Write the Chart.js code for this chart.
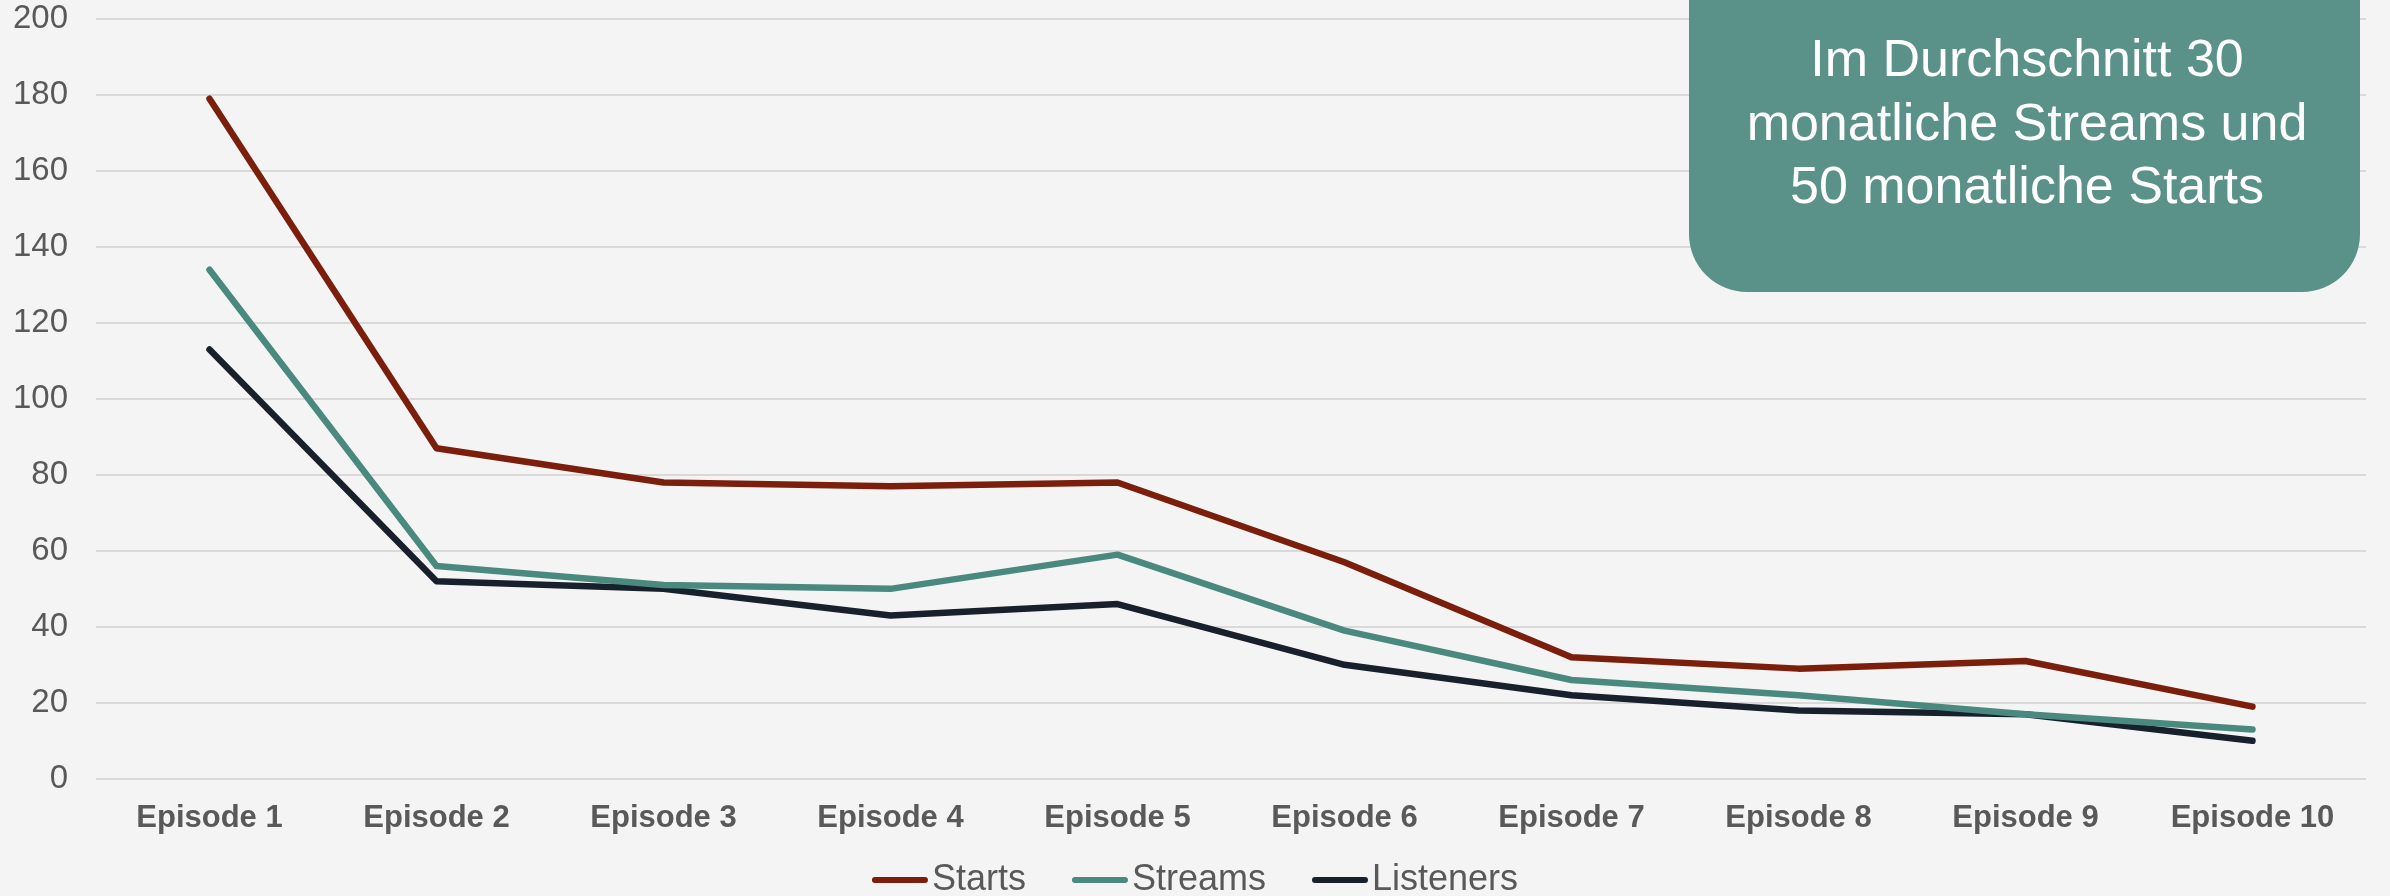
<!DOCTYPE html>
<html>
<head>
<meta charset="utf-8">
<script src="https://cdn.jsdelivr.net/npm/chart.js@4"></script>
<style>
    html, body { margin: 0; padding: 0; background: #f4f4f4; }
    #wrap { width: 2390px; height: 896px; position: relative; }
</style>
</head>
<body>
<div id="wrap"><canvas id="episodeChart"></canvas></div>
<script>
// Episode labels on the x axis
const episodes = ['Episode 1', 'Episode 2', 'Episode 3', 'Episode 4', 'Episode 5',
    'Episode 6', 'Episode 7', 'Episode 8', 'Episode 9', 'Episode 10'];

// Values
const starts = [179, 87, 78, 77, 78, 57, 32, 29, 31, 19];
const streams = [134, 56, 51, 50, 59, 39, 26, 22, 17, 13];
const listeners = [113, 52, 50, 43, 46, 30, 22, 18, 17, 10];

const calloutLines = ['Im Durchschnitt 30', 'monatliche Streams und', '50 monatliche Starts'];

const textColor = '#595959';
const fontFamily = '"Liberation Sans", Arial, sans-serif';

// Draws the green rounded callout box in the top right corner
const calloutPlugin = {
    id: 'callout',
    afterDraw(chart) {
        const ctx = chart.ctx;
        ctx.save();
        ctx.fillStyle = '#5a9189';
        ctx.beginPath();
        ctx.roundRect(1689, -80, 671, 372, 58);
        ctx.fill();
        ctx.fillStyle = '#ffffff';
        ctx.font = '52px ' + fontFamily;
        ctx.textAlign = 'center';
        ctx.textBaseline = 'alphabetic';
        calloutLines.forEach((line, i) => {
            ctx.fillText(line, 2027, 76 + i * 63.5);
        });
        ctx.restore();
    }
};

// Legend drawn by hand: short line sample right next to the label
const legendPlugin = {
    id: 'bottomLegend',
    afterDraw(chart) {
        const ctx = chart.ctx;
        const sample = 56, gap = 4, spacing = 46, y = 880;
        ctx.save();
        ctx.font = '36px ' + fontFamily;
        const items = chart.data.datasets.map(ds => ({
            label: ds.label,
            color: ds.borderColor,
            w: sample + gap + ctx.measureText(ds.label).width
        }));
        const total = items.reduce((s, it) => s + it.w, 0) + spacing * (items.length - 1);
        let x = chart.width / 2 - total / 2;
        items.forEach(it => {
            ctx.strokeStyle = it.color;
            ctx.lineWidth = 6;
            ctx.lineCap = 'round';
            ctx.beginPath();
            ctx.moveTo(x + 3, y);
            ctx.lineTo(x + sample - 3, y);
            ctx.stroke();
            ctx.fillStyle = textColor;
            ctx.textAlign = 'left';
            ctx.textBaseline = 'middle';
            ctx.fillText(it.label, x + sample + gap, y);
            x += it.w + spacing;
        });
        ctx.restore();
    }
};

function makeDataset(label, data, color) {
    return {
        label: label,
        data: data,
        borderColor: color,
        backgroundColor: color,
        borderWidth: 6.5,
        tension: 0,
        pointRadius: 0,
        borderCapStyle: 'round',
        borderJoinStyle: 'round',
        fill: false
    };
}

const ctx = document.getElementById('episodeChart').getContext('2d');
new Chart(ctx, {
    type: 'line',
    data: {
        labels: episodes,
        datasets: [
            makeDataset('Starts', starts, '#7b1f0c'),
            makeDataset('Streams', streams, '#4a8a7e'),
            makeDataset('Listeners', listeners, '#18212b')
        ]
    },
    plugins: [calloutPlugin, legendPlugin],
    options: {
        responsive: true,
        maintainAspectRatio: false,
        animation: false,
        layout: {
            padding: { left: 0, right: 24, top: 19, bottom: 46 }
        },
        scales: {
            x: {
                offset: true,
                grid: { display: false },
                border: { display: false },
                ticks: {
                    color: textColor,
                    padding: 13,
                    maxRotation: 0,
                    font: { family: fontFamily, size: 31, weight: 'bold' }
                }
            },
            y: {
                min: 0,
                max: 200,
                afterFit: function(scale) {
                    scale.width = 96;
                    // tick padding would otherwise push the plot down
                    scale.paddingTop = 0;
                    scale.paddingBottom = 0;
                },
                grid: {
                    color: '#d9d9d9',
                    lineWidth: 2,
                    drawTicks: false
                },
                border: { display: false },
                ticks: {
                    stepSize: 20,
                    color: textColor,
                    padding: 28,
                    font: { family: fontFamily, size: 33 }
                }
            }
        },
        plugins: {
            legend: { display: false },
            tooltip: { enabled: false }
        }
    }
});
</script>
</body>
</html>
